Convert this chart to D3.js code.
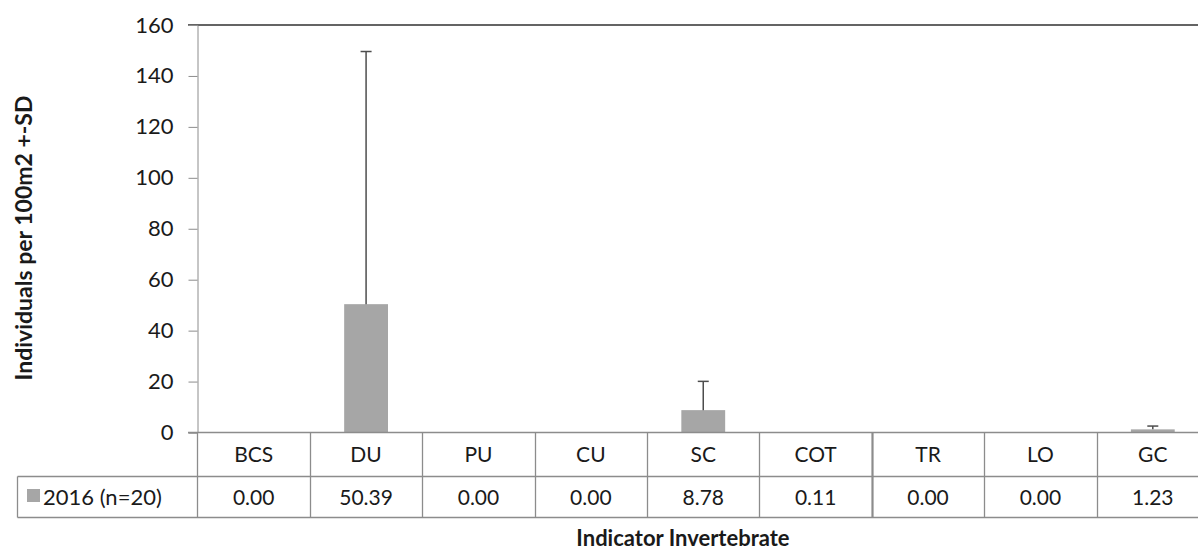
<!DOCTYPE html>
<html>
<head>
<meta charset="utf-8">
<script src="https://cdn.jsdelivr.net/npm/d3@7"></script>
<style>
  html, body { margin: 0; padding: 0; background: #fff; }
  svg { display: block; font-family: Lato, "Open Sans", sans-serif; }
</style>
</head>
<body>
<svg id="chart" width="1198" height="552"></svg>
<script>
const categories = ["BCS", "DU", "PU", "CU", "SC", "COT", "TR", "LO", "GC"];
const means = [0.00, 50.39, 0.00, 0.00, 8.78, 0.11, 0.00, 0.00, 1.23];
const sds = [0, 99.2, 0, 0, 11.3, 0, 0, 0, 1.3];
const yTicks = [0, 20, 40, 60, 80, 100, 120, 140, 160];
const seriesLabel = "2016 (n=20)";
const yTitle = "Individuals per 100m2 +-SD";
const xTitle = "Indicator Invertebrate";

(function () {
const svg = d3.select("#chart");
const plotLeft = 197.5, plotRight = 1209, plotTop = 25, zeroY = 432.5;
const rowMid = 476.5, rowBot = 517.5, tableLeft = 17.5;
const fmt = d3.format(".2f");

const x = d3.scaleBand().domain(categories).range([plotLeft, plotRight]).padding(0);
const y = d3.scaleLinear().domain([0, 160]).range([zeroY, plotTop]);
const barW = x.bandwidth() * 0.39;

const gridColor = "#8c8c8c";
const textColor = "#1a1a1a";

// top border line
svg.append("line").attr("x1", 188).attr("x2", 1198).attr("y1", y(160)).attr("y2", y(160))
  .attr("stroke", "#646464").attr("stroke-width", 2);

// y axis
const yAxis = d3.axisLeft(y).tickValues(yTicks).tickSize(9).tickPadding(15).tickFormat(d3.format("d"));
const gy = svg.append("g").attr("transform", `translate(${plotLeft},0)`).call(yAxis);
gy.select(".domain").attr("stroke", gridColor);
gy.selectAll(".tick line").attr("stroke", gridColor);
gy.selectAll(".tick text").attr("font-size", 22).attr("fill", textColor)
  .attr("font-family", "Lato, sans-serif");

// bars
svg.append("g").selectAll("rect").data(categories).join("rect")
  .attr("x", (d) => x(d) + x.bandwidth() / 2 - barW / 2)
  .attr("width", barW)
  .attr("y", (d, i) => y(means[i]))
  .attr("height", (d, i) => y(0) - y(means[i]))
  .attr("fill", "#a6a6a6");

// error bars (plus direction only)
const eb = svg.append("g").attr("stroke", "#4d4d4d").attr("stroke-width", 1.5);
categories.forEach((c, i) => {
  if (sds[i] <= 0) return;
  const cx = x(c) + x.bandwidth() / 2;
  eb.append("line").attr("x1", cx).attr("x2", cx).attr("y1", y(means[i])).attr("y2", y(means[i] + sds[i]));
  eb.append("line").attr("x1", cx - 5.5).attr("x2", cx + 5.5).attr("y1", y(means[i] + sds[i])).attr("y2", y(means[i] + sds[i]));
});

// data table lines
const tl = svg.append("g").attr("stroke", gridColor).attr("stroke-width", 1.3);
tl.append("line").attr("x1", 188).attr("x2", 1198).attr("y1", zeroY).attr("y2", zeroY);
tl.append("line").attr("x1", tableLeft).attr("x2", 1198).attr("y1", rowMid).attr("y2", rowMid);
tl.append("line").attr("x1", tableLeft).attr("x2", 1198).attr("y1", rowBot).attr("y2", rowBot);
tl.append("line").attr("x1", tableLeft).attr("x2", tableLeft).attr("y1", rowMid).attr("y2", rowBot);
tl.append("line").attr("x1", plotLeft).attr("x2", plotLeft).attr("y1", zeroY).attr("y2", rowBot);
categories.forEach((c, i) => {
  if (i === 0) return;
  tl.append("line").attr("x1", Math.round(x(c)) + 0.5).attr("x2", Math.round(x(c)) + 0.5)
    .attr("y1", zeroY).attr("y2", rowBot)
    .attr("stroke-width", c === "TR" ? 2.2 : 1.3);
});

// category labels
svg.append("g").selectAll("text").data(categories).join("text")
  .attr("x", (d) => x(d) + x.bandwidth() / 2)
  .attr("y", 462)
  .attr("text-anchor", "middle")
  .attr("font-size", 21).attr("fill", textColor)
  .text((d) => d);

// values row
svg.append("g").selectAll("text").data(categories).join("text")
  .attr("x", (d) => x(d) + x.bandwidth() / 2)
  .attr("y", 505)
  .attr("text-anchor", "middle")
  .attr("font-size", 21).attr("fill", textColor)
  .text((d, i) => fmt(means[i]));

// legend key in header
svg.append("rect").attr("x", 27).attr("y", 489).attr("width", 13).attr("height", 13).attr("fill", "#a6a6a6");
svg.append("text").attr("x", 43).attr("y", 505).attr("font-size", 22).attr("fill", textColor).text(seriesLabel);

// axis titles
svg.append("text").attr("transform", `translate(32,238) rotate(-90)`)
  .attr("text-anchor", "middle").attr("font-size", 23).attr("font-weight", "bold").attr("fill", textColor)
  .text(yTitle);
svg.append("text").attr("x", 683).attr("y", 546)
  .attr("text-anchor", "middle").attr("font-size", 22).attr("font-weight", "bold").attr("fill", textColor)
  .text(xTitle);
})();
</script>
</body>
</html>
